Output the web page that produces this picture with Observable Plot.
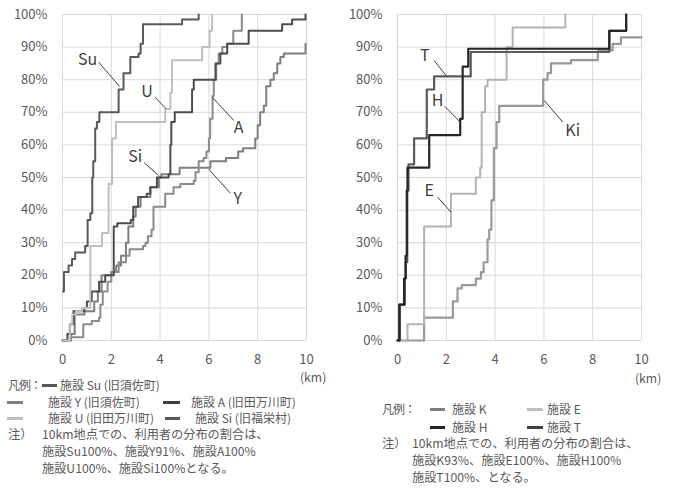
<!DOCTYPE html>
<html><head><meta charset="utf-8">
<script src="https://cdn.jsdelivr.net/npm/d3@7"></script>
<script src="https://cdn.jsdelivr.net/npm/@observablehq/plot@0.6"></script>
<style>
body{margin:0;background:#fff;font-family:"Noto Sans CJK JP",sans-serif;color:#595959}
#wrap{position:relative;width:675px;height:489px;overflow:hidden}
.panel{position:absolute;top:0}
.t{position:absolute;font-size:12px;white-space:nowrap;height:12px;line-height:12px}
.n{font-size:12.2px}
.k{letter-spacing:-1px}
.sw{position:absolute;height:2.5px}
</style></head><body>
<div id="wrap">
  <div class="panel" id="left" style="left:0"></div>
  <div class="panel" id="right" style="left:337px"></div>
</div>
<script>
// ---- data (km, cumulative %) ----
const xTicks = [0, 2, 4, 6, 8, 10];
const yTicks = [0, 10, 20, 30, 40, 50, 60, 70, 80, 90, 100];

const suData = [[0.02,15],[0.06,21],[0.25,23],[0.39,25],[0.52,27],[0.93,29],[1.03,37],[1.14,39],[1.22,50],[1.26,55],[1.34,65],[1.41,67],[1.51,70],[2.30,77],[2.50,82],[2.78,87],[3.12,88],[3.20,91],[3.30,97],[4.90,98.5],[5.58,100]];
const uData = [[0,0],[0.1,0],[0.3,5],[0.4,8],[0.55,9],[0.8,10],[1.14,29],[1.62,33],[1.89,48],[2.03,62],[2.19,67],[4.21,71],[4.42,76],[4.49,86],[5.72,90],[6.03,95],[6.13,100]];
const siData = [[0,0],[0.2,2],[0.3,5],[0.45,9],[0.9,10],[1.0,12],[1.2,15],[1.5,18],[1.75,20],[2.1,35],[2.25,36],[2.8,37],[2.9,41],[3.1,44],[3.45,45],[3.6,47],[3.87,50],[4.35,51],[4.42,60],[4.46,67],[4.6,70],[5.31,77],[5.38,80],[6.27,85],[6.47,88],[6.75,91],[7.63,95],[9.0,97],[9.41,98.5],[9.96,100]];
const yData = [[0,0],[0.35,2],[0.5,8],[0.9,9],[1.3,12],[1.45,15],[1.6,20],[2.0,21],[2.2,23],[2.4,26],[2.6,30],[2.7,35],[2.9,38],[3.0,41],[3.2,44],[3.6,47],[3.95,50],[4.05,51],[4.8,53],[6.06,55],[6.7,56],[7.2,58],[7.4,59],[7.9,62],[8.0,66],[8.1,70],[8.25,72],[8.35,78],[8.52,80],[8.66,82],[8.8,85],[8.93,87],[9.07,88],[9.96,91]];
const aData = [[0,0],[0.3,1],[0.85,5],[1.2,6],[1.5,7],[1.55,11],[1.65,15],[1.85,18],[2.0,21],[2.3,24],[2.6,26],[2.75,28],[3.3,29],[3.4,30],[3.5,32],[3.65,34],[3.73,41],[4.21,45],[4.55,47],[4.83,48],[5.38,49],[5.45,51.6],[5.58,55],[5.78,56],[5.9,58],[6.0,62],[6.05,68],[6.15,75],[6.2,80],[6.3,85],[6.4,88],[6.55,90],[6.75,91],[7.0,95],[7.35,100]];

const kiData = [[0,0],[1.09,7],[2.27,12],[2.46,16],[2.64,17],[3.21,19],[3.42,21],[3.53,24],[3.69,31],[3.76,34],[3.85,43],[3.95,59],[4.06,67],[4.17,72],[5.97,80],[6.15,82],[6.29,85],[7.11,86],[8.21,89],[8.82,91],[9.16,93],[10,93]];
const eData = [[0,0],[0.41,5],[1.09,35],[2.19,45],[3.21,50],[3.39,53],[3.45,70],[3.59,78],[3.69,80],[4.47,90],[4.72,96],[6.88,100]];
const tData = [[0,0],[0.1,11],[0.3,19],[0.34,24],[0.4,46],[0.45,54],[0.68,62],[1.2,77],[1.5,81],[3.0,88.5],[8.68,95],[9.37,100]];
const hData = [[0,0],[0.07,11],[0.27,19],[0.33,26],[0.38,46],[0.41,53],[1.30,63],[2.57,68],[2.67,84],[2.90,89.5],[8.68,95],[9.37,100]];

// labels: name, text position, leader from -> to (data units)
const leftLabels = [
  {name:"Su", tx:1.03, ty:86.1, x1:1.48, y1:85.4, x2:2.34, y2:77.9},
  {name:"U",  tx:3.46, ty:76.2, x1:3.80, y1:74.6, x2:4.24, y2:71.1},
  {name:"A",  tx:7.22, ty:65.2, x1:7.02, y1:67.5, x2:6.14, y2:74.6},
  {name:"Si", tx:2.98, ty:56.2, x1:3.35, y1:54.5, x2:3.94, y2:50.6},
  {name:"Y",  tx:7.18, ty:43.5, x1:6.88, y1:45.2, x2:5.99, y2:52.6}
];
const rightLabels = [
  {name:"T",  tx:1.12, ty:87.4, x1:1.50, y1:85.9, x2:2.02, y2:81.0},
  {name:"H",  tx:1.64, ty:73.6, x1:1.94, y1:71.8, x2:2.57, y2:67.0},
  {name:"Ki", tx:7.18, ty:64.4, x1:6.77, y1:67.0, x2:6.02, y2:73.6},
  {name:"E",  tx:1.30, ty:45.8, x1:1.64, y1:44.0, x2:2.19, y2:39.4}
];

const leftSeries = [
  {data: yData,  color:"#7f7f7f", w:2},
  {data: aData,  color:"#8a8a8a", w:2},
  {data: siData, color:"#4d4d4d", w:2},
  {data: uData,  color:"#bfbfbf", w:2},
  {data: suData, color:"#595959", w:2}
];
const rightSeries = [
  {data: kiData, color:"#999999", w:2.2},
  {data: eData,  color:"#b3b3b3", w:2},
  {data: tData,  color:"#5a5a5a", w:2.2},
  {data: hData,  color:"#262626", w:2.2}
];

function panel(series, labels, width, ml, mr) {
  return Plot.plot({
    width, height: 375, marginTop: 14, marginBottom: 35, marginLeft: ml, marginRight: mr,
    style: {fontFamily: "'Noto Sans CJK JP', sans-serif", fontSize: "13px", color: "#595959", background: "white", overflow: "visible"},
    x: {domain: [0, 10], ticks: xTicks, tickSize: 0, tickPadding: 14, label: null},
    y: {domain: [0, 100], ticks: yTicks, tickSize: 0, tickPadding: 15, tickFormat: d => d + "%", label: null},
    marks: [
      Plot.gridX(xTicks, {stroke: "#d9d9d9", strokeOpacity: 1, strokeWidth: 1}),
      Plot.gridY(yTicks, {stroke: "#d9d9d9", strokeOpacity: 1, strokeWidth: 1}),
      ...series.map(s => Plot.line(s.data, {x: d => d[0], y: d => d[1], curve: "step-after", stroke: s.color, strokeWidth: s.w})),
      Plot.link(labels, {x1: "x1", y1: "y1", x2: "x2", y2: "y2", stroke: "#404040", strokeWidth: 1}),
      Plot.text(labels, {x: "tx", y: "ty", text: "name", fontSize: 16, fill: "#404040"})
    ]
  });
}

document.getElementById("left").append(panel(leftSeries, leftLabels, 337, 62, 31));
document.getElementById("right").append(panel(rightSeries, rightLabels, 338, 60, 34));

// ---- legends & notes (HTML text) ----
const wrap = document.getElementById("wrap");
function txt(s, x, cy, cls) {
  const d = document.createElement("div");
  d.className = "t" + (cls ? " " + cls : "");
  d.style.left = x + "px"; d.style.top = (cy - 6) + "px";
  d.textContent = s; wrap.append(d);
}
function sw(color, x1, x2, cy) {
  const d = document.createElement("div");
  d.className = "sw";
  d.style.left = x1 + "px"; d.style.width = (x2 - x1) + "px"; d.style.top = (cy - 1) + "px";
  d.style.background = color; wrap.append(d);
}
txt("(km)", 300, 377, "n");
txt("(km)", 635, 378, "n");

// left legend
txt("凡例：", 8, 385, "k"); sw("#595959", 42, 57, 385); txt("施設 Su (旧須佐町)", 60, 385);
sw("#7f7f7f", 7, 23, 402); txt("施設 Y (旧須佐町)", 48, 402); sw("#404040", 163, 180, 402); txt("施設 A (旧田万川町)", 191, 402);
sw("#bfbfbf", 7, 23, 418); txt("施設 U (旧田万川町)", 48, 418); sw("#595959", 165, 180, 418); txt("施設 Si (旧福栄村)", 195, 418);
txt("注）", 8, 434, "n"); txt("10km地点での、利用者の分布の割合は、", 42, 434, "n");
txt("施設Su100%、施設Y91%、施設A100%", 42, 451, "n");
txt("施設U100%、施設Si100%となる。", 42, 468, "n");

// right legend
txt("凡例：", 382, 409, "k"); sw("#7f7f7f", 430, 445, 409); txt("施設 K", 452, 409); sw("#bfbfbf", 527, 543, 409); txt("施設 E", 547, 409);
sw("#262626", 430, 445, 427); txt("施設 H", 452, 427); sw("#404040", 527, 543, 427); txt("施設 T", 547, 427);
txt("注）", 382, 443, "n"); txt("10km地点での、利用者の分布の割合は、", 412, 443, "n");
txt("施設K93%、施設E100%、施設H100%", 412, 460, "n");
txt("施設T100%、となる。", 412, 477, "n");
</script>
</body></html>
